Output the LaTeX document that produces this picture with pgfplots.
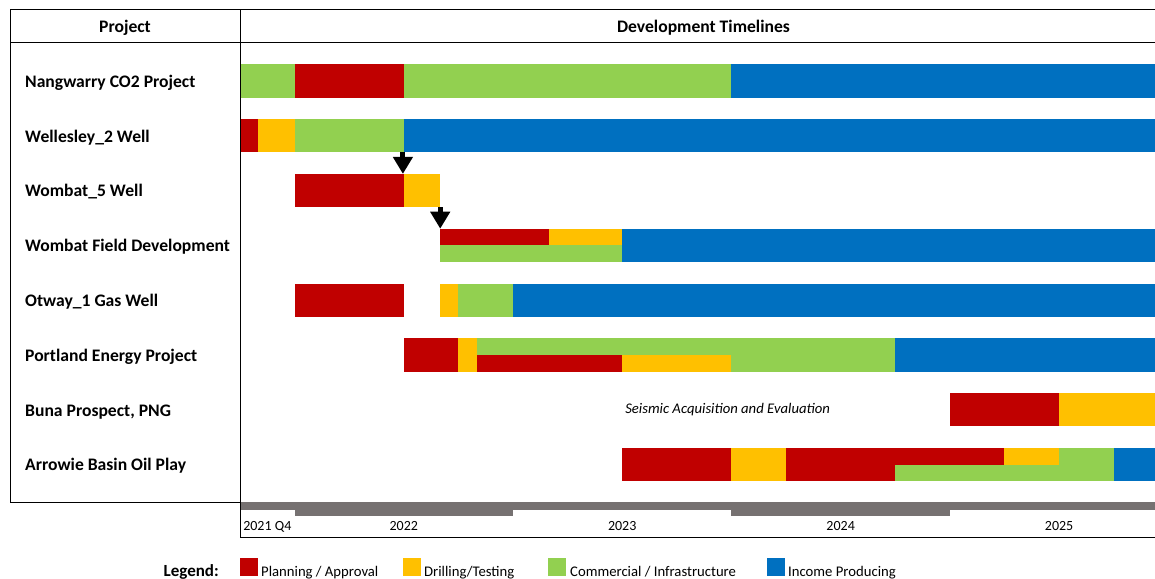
\documentclass[border=0pt]{standalone}
\usepackage{pgfplots}
\pgfplotsset{compat=1.18}
\usepackage{fontspec}
\setmainfont{Carlito}
\usetikzlibrary{arrows.meta}
\definecolor{cRed}{HTML}{C00000}
\definecolor{cYel}{HTML}{FFC000}
\definecolor{cGrn}{HTML}{92D050}
\definecolor{cBlu}{HTML}{0070C0}
\definecolor{cGry}{HTML}{767171}
\newcommand{\seg}[5]{\addplot[fill=#5, draw=none, forget plot] coordinates {(#1,#3) (#2,#3) (#2,#4) (#1,#4)};}
\begin{document}
\begin{tikzpicture}[x=1pt,y=-1pt]
\useasboundingbox (0,0) rectangle (1155,578);
\begin{axis}[
  at={(240pt,-502pt)}, anchor=south west,
  scale only axis, width=915pt, height=459pt,
  xmin=0, xmax=50.27, ymin=0.3175, ymax=8.693,
  clip=false,
  axis line style={draw=none},
  tick style={draw=none},
  xtick={1.5,9,21,33,45},
  xticklabels={2021 Q4,2022,2023,2024,2025},
  xticklabel style={anchor=base, yshift=-28.5pt, inner sep=0pt, font=\fontsize{14}{17}\selectfont},
  ytick={1,2,3,4,5,6,7,8},
  yticklabels={Arrowie Basin Oil Play,{Buna Prospect, PNG},Portland Energy Project,Otway\_1 Gas Well,Wombat Field Development,Wombat\_5 Well,Wellesley\_2 Well,Nangwarry CO2 Project},
  yticklabel style={anchor=base west, xshift=-215pt, yshift=-6.3pt, inner sep=0pt, font=\bfseries\fontsize{17.6}{21}\selectfont},
]
% Row 1 Nangwarry (c=8)
\seg{0}{3}{7.696}{8.304}{cGrn}
\seg{3}{9}{7.696}{8.304}{cRed}
\seg{9}{27}{7.696}{8.304}{cGrn}
\seg{27}{50.27}{7.696}{8.304}{cBlu}
% Row 2 Wellesley (c=7)
\seg{0}{1}{6.696}{7.304}{cRed}
\seg{1}{3}{6.696}{7.304}{cYel}
\seg{3}{9}{6.696}{7.304}{cGrn}
\seg{9}{50.27}{6.696}{7.304}{cBlu}
% Row 3 Wombat_5 (c=6)
\seg{3}{9}{5.696}{6.304}{cRed}
\seg{9}{11}{5.696}{6.304}{cYel}
% Row 4 Wombat Field (c=5)
\seg{11}{17}{5}{5.304}{cRed}
\seg{17}{21}{5}{5.304}{cYel}
\seg{11}{21}{4.696}{5}{cGrn}
\seg{21}{50.27}{4.696}{5.304}{cBlu}
% Row 5 Otway (c=4)
\seg{3}{9}{3.696}{4.304}{cRed}
\seg{11}{12}{3.696}{4.304}{cYel}
\seg{12}{15}{3.696}{4.304}{cGrn}
\seg{15}{50.27}{3.696}{4.304}{cBlu}
% Row 6 Portland (c=3)
\seg{9}{12}{2.696}{3.304}{cRed}
\seg{12}{13}{2.696}{3.304}{cYel}
\seg{13}{36}{3}{3.304}{cGrn}
\seg{13}{21}{2.696}{3}{cRed}
\seg{21}{27}{2.696}{3}{cYel}
\seg{27}{36}{2.696}{3}{cGrn}
\seg{36}{50.27}{2.696}{3.304}{cBlu}
% Row 7 Buna (c=2)
\seg{39}{45}{1.696}{2.304}{cRed}
\seg{45}{50.27}{1.696}{2.304}{cYel}
% Row 8 Arrowie (c=1)
\seg{21}{27}{0.696}{1.304}{cRed}
\seg{27}{30}{0.696}{1.304}{cYel}
\seg{30}{42}{1}{1.304}{cRed}
\seg{42}{45}{1}{1.304}{cYel}
\seg{45}{48}{1}{1.304}{cGrn}
\seg{30}{36}{0.696}{1}{cRed}
\seg{36}{48}{0.696}{1}{cGrn}
\seg{48}{50.27}{0.696}{1.304}{cBlu}
% timeline band
\seg{0}{50.27}{0.1715}{0.312}{cGry}
\seg{3}{15}{0.062}{0.1715}{cGry}
\seg{27}{39}{0.062}{0.1715}{cGry}
% arrows
\draw[line width=5pt, -{Triangle[width=19pt,length=17pt]}] (axis cs:8.95,6.696) -- (axis cs:8.95,6.304);
\draw[line width=5pt, -{Triangle[width=19pt,length=17pt]}] (axis cs:11,5.696) -- (axis cs:11,5.304);
\node[font=\itshape\fontsize{14.7}{17}\selectfont] at (axis cs:26.79,2) {Seismic Acquisition and Evaluation};
\end{axis}
% frame
\draw[line width=1pt] (10,10) -- (1155,10);
\draw[line width=1pt] (10,10) -- (10,502) -- (240,502);
\draw[line width=1pt] (10,43) -- (1155,43);
\draw[line width=1pt] (240,10) -- (240,537) -- (1155,537);
\node[anchor=base, inner sep=0pt, font=\bfseries\fontsize{17.6}{21}\selectfont] at (125,32.5) {Project};
\node[anchor=base, inner sep=0pt, font=\bfseries\fontsize{17.6}{21}\selectfont] at (703.5,32.5) {Development Timelines};
% legend
\node[anchor=base east, inner sep=0pt, font=\bfseries\fontsize{17}{20}\selectfont] at (219,576) {Legend:};
\fill[cRed] (240,558) rectangle (258,576);
\fill[cYel] (403,558) rectangle (421,576);
\fill[cGrn] (548,558) rectangle (566,576);
\fill[cBlu] (767,558) rectangle (785,576);
\node[anchor=base west, inner sep=0pt, font=\fontsize{14.7}{17}\selectfont] at (261,576) {Planning / Approval};
\node[anchor=base west, inner sep=0pt, font=\fontsize{14.7}{17}\selectfont] at (424,576) {Drilling/Testing};
\node[anchor=base west, inner sep=0pt, font=\fontsize{14.7}{17}\selectfont] at (570,576) {Commercial / Infrastructure};
\node[anchor=base west, inner sep=0pt, font=\fontsize{14.7}{17}\selectfont] at (788,576) {Income Producing};
\end{tikzpicture}
\end{document}
